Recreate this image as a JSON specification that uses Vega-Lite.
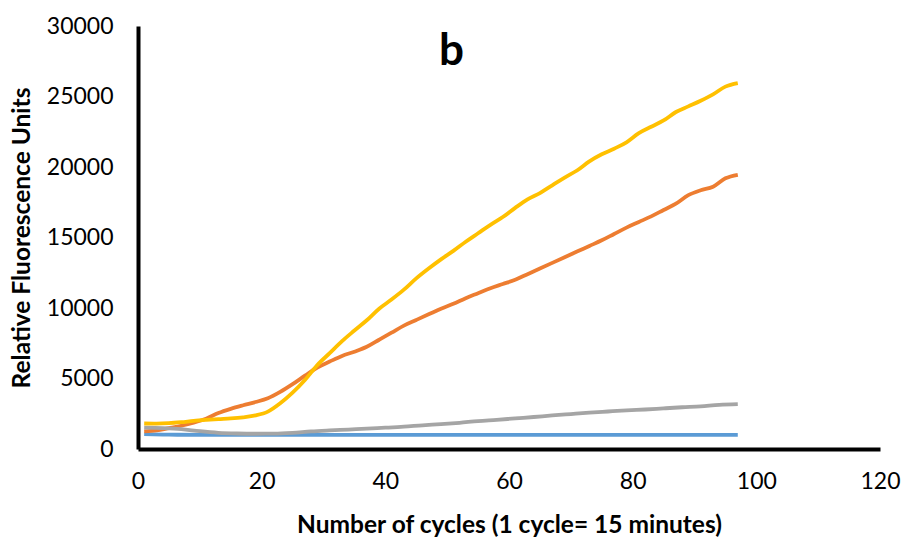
{
  "$schema": "https://vega.github.io/schema/vega-lite/v6.json",
  "width": 742,
  "height": 423,
  "autosize": "none",
  "padding": {"left": 138, "top": 26, "right": 26, "bottom": 88},
  "background": "white",
  "title": {"text": "b", "anchor": "start", "frame": "group", "dx": 301, "offset": -94, "baseline": "alphabetic", "font": "Lato", "fontSize": 44, "fontWeight": "bold", "color": "black"},
  "config": {
    "view": {"stroke": null},
    "axis": {
      "grid": false, "ticks": false, "domainColor": "black", "domainWidth": 4, "labelFlush": false, "format": "d",
      "labelFont": "Lato", "labelFontSize": 23, "labelColor": "black",
      "titleFont": "Lato", "titleFontSize": 24.5, "titleFontWeight": "bold", "titleColor": "black"
    }
  },
  "datasets": {
    "rfu": [
      {"series": "S1", "cycle": 1, "rfu": 1050}, {"series": "S1", "cycle": 5, "rfu": 1020}, {"series": "S1", "cycle": 10, "rfu": 1000}, {"series": "S1", "cycle": 30, "rfu": 1000}, {"series": "S1", "cycle": 60, "rfu": 995}, {"series": "S1", "cycle": 97, "rfu": 995},
      {"series": "S2", "cycle": 1, "rfu": 1250}, {"series": "S2", "cycle": 3, "rfu": 1320}, {"series": "S2", "cycle": 5, "rfu": 1480}, {"series": "S2", "cycle": 7, "rfu": 1650}, {"series": "S2", "cycle": 9, "rfu": 1870}, {"series": "S2", "cycle": 11, "rfu": 2150}, {"series": "S2", "cycle": 13, "rfu": 2550}, {"series": "S2", "cycle": 15, "rfu": 2850}, {"series": "S2", "cycle": 17, "rfu": 3100}, {"series": "S2", "cycle": 19, "rfu": 3330}, {"series": "S2", "cycle": 21, "rfu": 3600}, {"series": "S2", "cycle": 23, "rfu": 4050}, {"series": "S2", "cycle": 25, "rfu": 4600}, {"series": "S2", "cycle": 27, "rfu": 5200}, {"series": "S2", "cycle": 29, "rfu": 5780}, {"series": "S2", "cycle": 31, "rfu": 6200}, {"series": "S2", "cycle": 33, "rfu": 6600}, {"series": "S2", "cycle": 35, "rfu": 6900}, {"series": "S2", "cycle": 37, "rfu": 7250}, {"series": "S2", "cycle": 39, "rfu": 7750}, {"series": "S2", "cycle": 41, "rfu": 8250}, {"series": "S2", "cycle": 43, "rfu": 8750}, {"series": "S2", "cycle": 45, "rfu": 9150}, {"series": "S2", "cycle": 47, "rfu": 9550}, {"series": "S2", "cycle": 49, "rfu": 9950}, {"series": "S2", "cycle": 51, "rfu": 10300}, {"series": "S2", "cycle": 53, "rfu": 10700}, {"series": "S2", "cycle": 55, "rfu": 11050}, {"series": "S2", "cycle": 57, "rfu": 11400}, {"series": "S2", "cycle": 59, "rfu": 11700}, {"series": "S2", "cycle": 61, "rfu": 12000}, {"series": "S2", "cycle": 63, "rfu": 12400}, {"series": "S2", "cycle": 65, "rfu": 12800}, {"series": "S2", "cycle": 67, "rfu": 13200}, {"series": "S2", "cycle": 69, "rfu": 13600}, {"series": "S2", "cycle": 71, "rfu": 14000}, {"series": "S2", "cycle": 73, "rfu": 14400}, {"series": "S2", "cycle": 75, "rfu": 14800}, {"series": "S2", "cycle": 77, "rfu": 15250}, {"series": "S2", "cycle": 79, "rfu": 15700}, {"series": "S2", "cycle": 81, "rfu": 16100}, {"series": "S2", "cycle": 83, "rfu": 16500}, {"series": "S2", "cycle": 85, "rfu": 16950}, {"series": "S2", "cycle": 87, "rfu": 17400}, {"series": "S2", "cycle": 89, "rfu": 18000}, {"series": "S2", "cycle": 91, "rfu": 18350}, {"series": "S2", "cycle": 93, "rfu": 18600}, {"series": "S2", "cycle": 95, "rfu": 19200}, {"series": "S2", "cycle": 97, "rfu": 19450},
      {"series": "S3", "cycle": 1, "rfu": 1510}, {"series": "S3", "cycle": 4, "rfu": 1480}, {"series": "S3", "cycle": 7, "rfu": 1410}, {"series": "S3", "cycle": 10, "rfu": 1260}, {"series": "S3", "cycle": 13, "rfu": 1150}, {"series": "S3", "cycle": 16, "rfu": 1100}, {"series": "S3", "cycle": 19, "rfu": 1080}, {"series": "S3", "cycle": 22, "rfu": 1090}, {"series": "S3", "cycle": 25, "rfu": 1150}, {"series": "S3", "cycle": 28, "rfu": 1250}, {"series": "S3", "cycle": 31, "rfu": 1320}, {"series": "S3", "cycle": 34, "rfu": 1380}, {"series": "S3", "cycle": 37, "rfu": 1450}, {"series": "S3", "cycle": 40, "rfu": 1510}, {"series": "S3", "cycle": 43, "rfu": 1580}, {"series": "S3", "cycle": 46, "rfu": 1680}, {"series": "S3", "cycle": 49, "rfu": 1760}, {"series": "S3", "cycle": 52, "rfu": 1860}, {"series": "S3", "cycle": 55, "rfu": 1980}, {"series": "S3", "cycle": 58, "rfu": 2070}, {"series": "S3", "cycle": 61, "rfu": 2170}, {"series": "S3", "cycle": 64, "rfu": 2270}, {"series": "S3", "cycle": 67, "rfu": 2380}, {"series": "S3", "cycle": 70, "rfu": 2480}, {"series": "S3", "cycle": 73, "rfu": 2580}, {"series": "S3", "cycle": 76, "rfu": 2660}, {"series": "S3", "cycle": 79, "rfu": 2740}, {"series": "S3", "cycle": 82, "rfu": 2800}, {"series": "S3", "cycle": 85, "rfu": 2880}, {"series": "S3", "cycle": 88, "rfu": 2960}, {"series": "S3", "cycle": 91, "rfu": 3030}, {"series": "S3", "cycle": 94, "rfu": 3130}, {"series": "S3", "cycle": 97, "rfu": 3180},
      {"series": "S4", "cycle": 1, "rfu": 1810}, {"series": "S4", "cycle": 3, "rfu": 1800}, {"series": "S4", "cycle": 5, "rfu": 1830}, {"series": "S4", "cycle": 7, "rfu": 1900}, {"series": "S4", "cycle": 9, "rfu": 1990}, {"series": "S4", "cycle": 11, "rfu": 2060}, {"series": "S4", "cycle": 13, "rfu": 2120}, {"series": "S4", "cycle": 15, "rfu": 2170}, {"series": "S4", "cycle": 17, "rfu": 2250}, {"series": "S4", "cycle": 19, "rfu": 2380}, {"series": "S4", "cycle": 21, "rfu": 2650}, {"series": "S4", "cycle": 23, "rfu": 3250}, {"series": "S4", "cycle": 25, "rfu": 4000}, {"series": "S4", "cycle": 27, "rfu": 4900}, {"series": "S4", "cycle": 29, "rfu": 5950}, {"series": "S4", "cycle": 31, "rfu": 6800}, {"series": "S4", "cycle": 33, "rfu": 7650}, {"series": "S4", "cycle": 35, "rfu": 8400}, {"series": "S4", "cycle": 37, "rfu": 9130}, {"series": "S4", "cycle": 39, "rfu": 9950}, {"series": "S4", "cycle": 41, "rfu": 10600}, {"series": "S4", "cycle": 43, "rfu": 11300}, {"series": "S4", "cycle": 45, "rfu": 12100}, {"series": "S4", "cycle": 47, "rfu": 12800}, {"series": "S4", "cycle": 49, "rfu": 13450}, {"series": "S4", "cycle": 51, "rfu": 14050}, {"series": "S4", "cycle": 53, "rfu": 14700}, {"series": "S4", "cycle": 55, "rfu": 15300}, {"series": "S4", "cycle": 57, "rfu": 15900}, {"series": "S4", "cycle": 59, "rfu": 16450}, {"series": "S4", "cycle": 61, "rfu": 17100}, {"series": "S4", "cycle": 63, "rfu": 17700}, {"series": "S4", "cycle": 65, "rfu": 18150}, {"series": "S4", "cycle": 67, "rfu": 18700}, {"series": "S4", "cycle": 69, "rfu": 19250}, {"series": "S4", "cycle": 71, "rfu": 19750}, {"series": "S4", "cycle": 73, "rfu": 20400}, {"series": "S4", "cycle": 75, "rfu": 20900}, {"series": "S4", "cycle": 77, "rfu": 21300}, {"series": "S4", "cycle": 79, "rfu": 21750}, {"series": "S4", "cycle": 81, "rfu": 22400}, {"series": "S4", "cycle": 83, "rfu": 22850}, {"series": "S4", "cycle": 85, "rfu": 23300}, {"series": "S4", "cycle": 87, "rfu": 23900}, {"series": "S4", "cycle": 89, "rfu": 24300}, {"series": "S4", "cycle": 91, "rfu": 24700}, {"series": "S4", "cycle": 93, "rfu": 25150}, {"series": "S4", "cycle": 95, "rfu": 25700}, {"series": "S4", "cycle": 97, "rfu": 25950}
    ]
  },
  "data": {"name": "rfu"},
  "mark": {"type": "line", "strokeWidth": 3.8, "interpolate": "monotone"},
  "encoding": {
    "x": {"field": "cycle", "type": "quantitative", "scale": {"domain": [0, 120], "nice": false}, "axis": {"values": [0, 20, 40, 60, 80, 100, 120], "labelPadding": 21, "title": "Number of cycles (1 cycle= 15 minutes)", "titlePadding": 20}},
    "y": {"field": "rfu", "type": "quantitative", "scale": {"domain": [0, 30000], "nice": false}, "axis": {"values": [0, 5000, 10000, 15000, 20000, 25000, 30000], "labelPadding": 25, "title": "Relative Fluorescence Units", "titlePadding": 12}},
    "color": {"field": "series", "type": "nominal", "scale": {"domain": ["S1", "S2", "S3", "S4"], "range": ["#5B9BD5", "#ED7D31", "#A5A5A5", "#FFC000"]}, "legend": null}
  }
}
